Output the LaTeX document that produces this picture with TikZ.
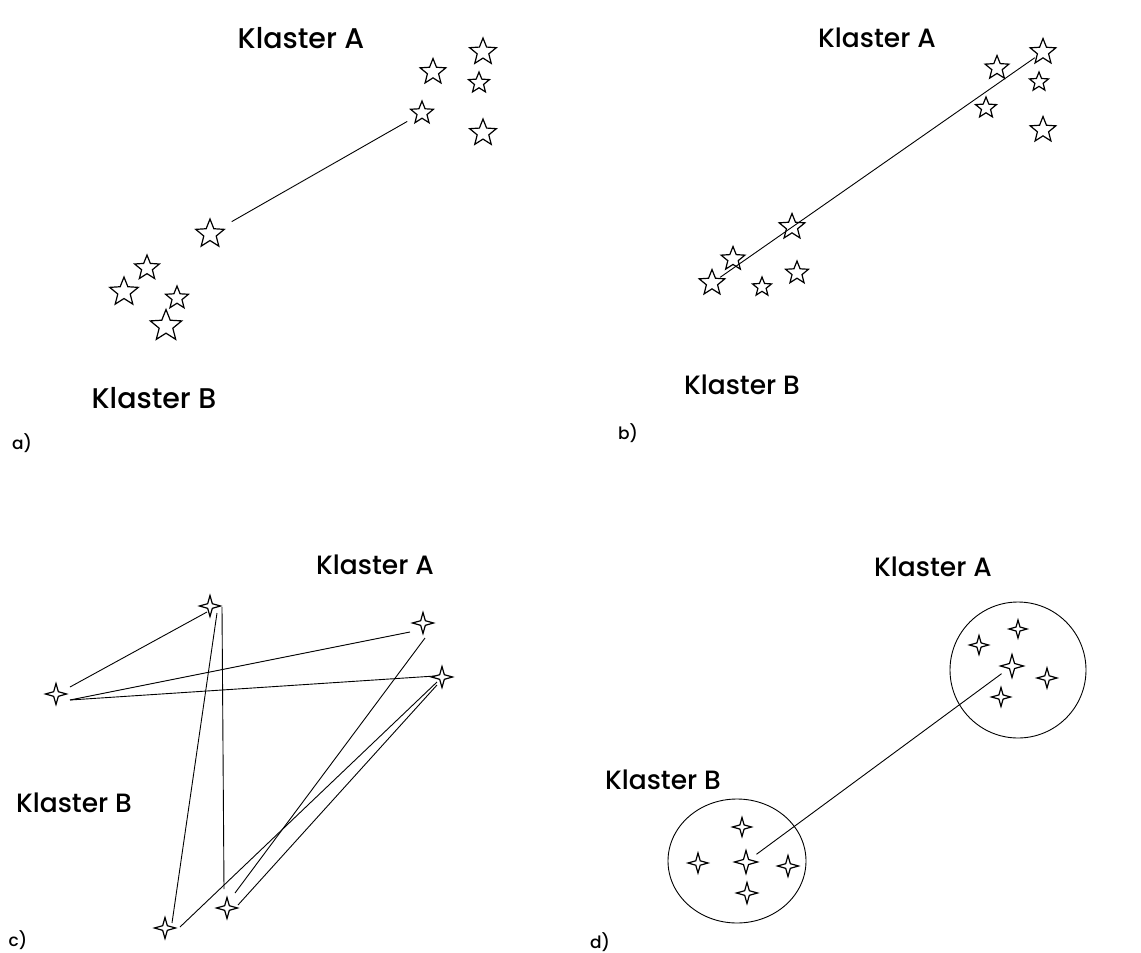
\documentclass[tikz,border=0pt]{standalone}
\usepackage{fontspec}
\setmainfont{Poppins}[UprightFont=* Medium]
\usetikzlibrary{shapes.geometric,calc}
\begin{document}
\begin{tikzpicture}[x=1pt,y=-1pt,
  pt5/.style={star, star points=5, star point ratio=2.3, draw, line width=1.2pt, inner sep=0pt, minimum size=#1},
  pt4/.style={star, star points=4, star point ratio=3.2, draw, line width=1.2pt, inner sep=0pt, minimum size=#1},
  link/.style={line width=0.9pt},
  lab/.style={font=\fontsize{26.5}{30}\selectfont},
  laba/.style={font=\fontsize{28.5}{32}\selectfont},
  tag/.style={font=\fontsize{17}{20}\selectfont}]
\useasboundingbox (0,0) rectangle (1141,953);

% ---------- a) ----------
\node[laba] (aA) at (301,38) {Klaster A};
\node[laba] (aB) at (154,398) {Klaster B};
\node[tag] (at) at (22,443) {a)};
\node[pt5=28pt] (a1) at (483,52) {};
\node[pt5=27pt] (a2) at (433,72) {};
\node[pt5=22pt] (a3) at (479,83) {};
\node[pt5=24pt] (a4) at (422,113) {};
\node[pt5=28pt] (a5) at (483,133) {};
\node[pt5=30pt] (a6) at (210,234) {};
\node[pt5=26pt] (a7) at (147,268) {};
\node[pt5=30pt] (a8) at (124,292) {};
\node[pt5=24pt] (a9) at (177,298) {};
\node[pt5=33pt] (a10) at (166,326) {};
\draw[link, shorten <=25pt, shorten >=17pt] (a6.center) -- (a4.center);

% ---------- b) ----------
\node[lab] (bA) at (877,38) {Klaster A};
\node[lab] (bB) at (742,385) {Klaster B};
\node[tag] (bt) at (628,433) {b)};
\node[pt5=27pt] (b1) at (1043,52) {};
\node[pt5=25pt] (b2) at (997,68) {};
\node[pt5=20pt] (b3) at (1039,82) {};
\node[pt5=22pt] (b4) at (986,108) {};
\node[pt5=27pt] (b5) at (1043,130) {};
\node[pt5=27pt] (b6) at (792,227) {};
\node[pt5=25pt] (b7) at (733,259) {};
\node[pt5=27pt] (b8) at (712,283) {};
\node[pt5=20pt] (b9) at (762,287) {};
\node[pt5=24pt] (b10) at (797,273) {};
\draw[link, shorten <=10pt, shorten >=10pt] (b8.center) -- (b1.center);

% ---------- c) ----------
\node[lab] (cA) at (375,565) {Klaster A};
\node[lab] (cB) at (74,803) {Klaster B};
\node[tag] (ct) at (18,940) {c)};
\node[pt4=21pt] (c1) at (210,606) {};
\node[pt4=21pt] (c2) at (423,623) {};
\node[pt4=21pt] (c3) at (56,694) {};
\node[pt4=21pt] (c4) at (442,677) {};
\node[pt4=21pt] (c5) at (227,908) {};
\node[pt4=21pt] (c6) at (165,928) {};
\draw[link] ($(c3.center)+(14,-7)$) -- ($(c1.center)+(-3,6)$);
\draw[link] ($(c3.center)+(14,6)$) -- ($(c2.center)+(-13,9)$);
\draw[link] ($(c3.center)+(14,6)$) -- ($(c4.center)+(-7,-1)$);
\draw[link] ($(c1.center)+(7,7)$) -- ($(c6.center)+(7,-5)$);
\draw[link] ($(c1.center)+(12,1)$) -- ($(c5.center)+(-3,-19)$);
\draw[link] ($(c2.center)+(2,15)$) -- ($(c5.center)+(8,-15)$);
\draw[link] ($(c4.center)+(-5,8)$) -- ($(c5.center)+(11,-3)$);
\draw[link] ($(c4.center)+(-5,5)$) -- ($(c6.center)+(15,-1)$);

% ---------- d) ----------
\node[lab] (dA) at (933,567) {Klaster A};
\node[lab] (dB) at (663,780) {Klaster B};
\node[tag] (dt) at (600,942) {d)};
\node[draw, circle, line width=0.9pt, minimum size=136pt, inner sep=0pt] (dcA) at (1018,670) {};
\node[draw, ellipse, line width=0.9pt, minimum width=138pt, minimum height=124pt, inner sep=0pt] (dcB) at (737,861) {};
\node[pt4=18pt] (dA1) at (1018,629) {};
\node[pt4=19pt] (dA2) at (979,645) {};
\node[pt4=23pt] (dA3) at (1012,666) {};
\node[pt4=20pt] (dA4) at (1047,678) {};
\node[pt4=19pt] (dA5) at (1001,697) {};
\node[pt4=19pt] (dB1) at (742,827) {};
\node[pt4=20pt] (dB2) at (698,863) {};
\node[pt4=23pt] (dB3) at (746,862) {};
\node[pt4=21pt] (dB4) at (788,866) {};
\node[pt4=21pt] (dB5) at (747,893) {};
\draw[link, shorten <=13pt, shorten >=13pt] (dB3.center) -- (dA3.center);
\end{tikzpicture}
\end{document}
